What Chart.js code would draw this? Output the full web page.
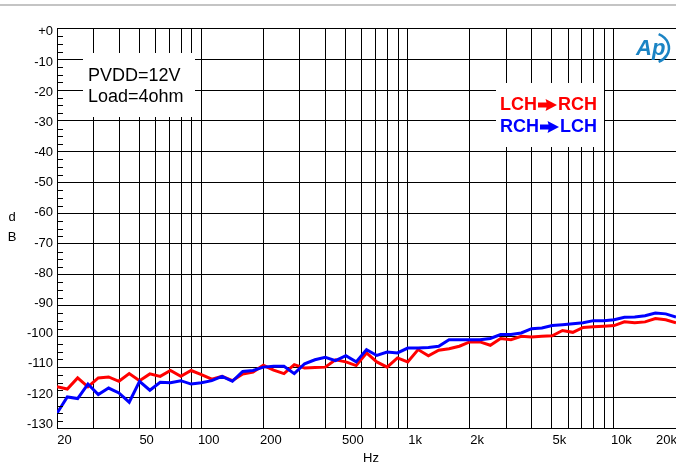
<!DOCTYPE html>
<html>
<head>
<meta charset="utf-8">
<script src="https://cdn.jsdelivr.net/npm/chart.js@4.4.1/dist/chart.umd.min.js"></script>
<style>
  html, body { margin: 0; padding: 0; background: #fff; }
  #wrap { width: 676px; height: 467px; position: relative; }
</style>
</head>
<body>
<div id="wrap"><canvas id="c" width="676" height="467"></canvas></div>
<script>
// Sweep frequencies (Hz), 20 steps per decade from 20 Hz to 20 kHz
const freqHz = [
  20, 22.44, 25.18, 28.25, 31.70, 35.57, 39.91, 44.77, 50.24, 56.37,
  63.25, 70.96, 79.62, 89.34, 100.2, 112.5, 126.2, 141.6, 158.9, 178.3,
  200, 224.4, 251.8, 282.5, 317.0, 355.7, 399.1, 447.7, 502.4, 563.7,
  632.5, 709.6, 796.2, 893.4, 1002, 1125, 1262, 1416, 1589, 1783,
  2000, 2244, 2518, 2825, 3170, 3557, 3991, 4477, 5024, 5637,
  6325, 7096, 7962, 8934, 10024, 11247, 12619, 14159, 15887, 17825,
  20000
];

// Crosstalk, left channel into right channel (dB)
const lchToRch = [
  -116.4, -117.1, -113.5, -116.4, -113.5, -113.2, -114.6, -112.1, -114.4, -112.2,
  -113.0, -111.1, -113.0, -111.1, -112.4, -113.9, -113.0, -114.4, -112.2, -111.6,
  -109.4, -111.0, -112.1, -109.2, -110.3, -110.1, -110.0, -107.6, -108.3, -109.5,
  -105.4, -108.3, -110.0, -107.0, -108.3, -104.3, -106.3, -104.5, -104.0, -103.2,
  -101.8, -101.8, -102.9, -100.7, -101.1, -100.0, -100.2, -100.0, -99.8, -98.1,
  -98.7, -97.1, -96.9, -96.7, -96.5, -95.3, -95.6, -95.3, -94.2, -94.6,
  -95.6
];

// Crosstalk, right channel into left channel (dB)
const rchToLch = [
  -125.0, -119.7, -120.2, -115.5, -118.9, -116.8, -118.4, -121.4, -114.6, -117.5,
  -114.9, -115.1, -114.4, -115.5, -115.1, -114.4, -113.0, -114.6, -111.4, -111.1,
  -110.0, -109.7, -109.7, -112.1, -108.9, -107.6, -106.8, -107.9, -106.3, -108.3,
  -104.3, -106.2, -105.1, -105.4, -103.8, -103.8, -103.6, -103.2, -101.1, -101.1,
  -101.1, -101.1, -100.7, -99.4, -99.4, -98.9, -97.5, -97.3, -96.5, -96.2,
  -95.9, -95.6, -94.9, -94.9, -94.6, -93.8, -93.7, -93.3, -92.4, -92.7,
  -93.7
];

const yTickValues = [0, -10, -20, -30, -40, -50, -60, -70, -80, -90, -100, -110, -120, -130];
const xGridValues = [
  20, 30, 40, 50, 60, 70, 80, 90,
  100, 200, 300, 400, 500, 600, 700, 800, 900,
  1000, 2000, 3000, 4000, 5000, 6000, 7000, 8000, 9000,
  10000, 20000
];
const xTickValues = [20, 50, 100, 200, 500, 1000, 2000, 5000, 10000, 20000];
const xTickLabels = ['20', '50', '100', '200', '500', '1k', '2k', '5k', '10k', '20k'];

const noteLines = ['PVDD=12V', 'Load=4ohm'];
const legendRows = [
  { from: 'LCH', to: 'RCH', color: '#ff0000' },
  { from: 'RCH', to: 'LCH', color: '#0000ff' }
];

const FONT = '"Liberation Sans", Arial, sans-serif';

const decor = {
  id: 'decor',
  beforeDraw(chart) {
    const ctx = chart.ctx;
    ctx.save();
    ctx.fillStyle = '#ffffff';
    ctx.fillRect(0, 0, chart.width, chart.height);
    ctx.fillStyle = '#c4c4c4';
    ctx.fillRect(0, 4, chart.width, 2);
    ctx.restore();
  },
  afterDraw(chart) {
    const ctx = chart.ctx;
    const area = chart.chartArea;
    const xs = chart.scales.x;
    const ys = chart.scales.y;
    ctx.save();

    // minor ticks on the left axis, every 2.5 dB
    ctx.strokeStyle = '#000';
    ctx.lineWidth = 1;
    for (let v = 0; v >= -130; v -= 2.5) {
      if (v % 10 === 0) continue;
      const y = Math.round(ys.getPixelForValue(v)) + 0.5;
      ctx.beginPath();
      ctx.moveTo(area.left, y);
      ctx.lineTo(area.left + 6, y);
      ctx.stroke();
    }

    // condition note
    ctx.fillStyle = '#fff';
    ctx.fillRect(83, 53, 112, 64);
    ctx.fillStyle = '#000';
    ctx.font = '18px ' + FONT;
    ctx.textAlign = 'left';
    ctx.textBaseline = 'middle';
    ctx.fillText(noteLines[0], 88, 76);
    ctx.fillText(noteLines[1], 88, 97);

    // channel legend
    ctx.fillStyle = '#fff';
    ctx.fillRect(496, 83, 108, 64);
    ctx.font = 'bold 18px ' + FONT;
    legendRows.forEach((row, i) => {
      const cy = 105 + i * 22;
      const left = 500, right = 597;
      ctx.fillStyle = row.color;
      ctx.textAlign = 'left';
      ctx.fillText(row.from, left, cy);
      ctx.textAlign = 'right';
      ctx.fillText(row.to, right, cy);
      const a0 = left + ctx.measureText(row.from).width + 1;
      const a1 = right - ctx.measureText(row.to).width - 1;
      const headW = (a1 - a0) * 0.55;
      ctx.beginPath();
      ctx.moveTo(a0, cy - 2.5);
      ctx.lineTo(a1 - headW, cy - 2.5);
      ctx.lineTo(a1 - headW - 1, cy - 6);
      ctx.lineTo(a1, cy);
      ctx.lineTo(a1 - headW - 1, cy + 6);
      ctx.lineTo(a1 - headW, cy + 2.5);
      ctx.lineTo(a0, cy + 2.5);
      ctx.closePath();
      ctx.fill();
    });

    // AP logo
    ctx.fillStyle = '#1b84c4';
    ctx.strokeStyle = '#1b84c4';
    ctx.font = 'italic bold 22px ' + FONT;
    ctx.textAlign = 'left';
    ctx.textBaseline = 'alphabetic';
    ctx.fillText('Ap', 636, 55);
    ctx.lineWidth = 2.5;
    ctx.beginPath();
    ctx.ellipse(650, 48, 19, 15.5, 0, -1.1, 1.1);
    ctx.stroke();

    // frequency labels
    ctx.fillStyle = '#000';
    ctx.font = '13px ' + FONT;
    ctx.textAlign = 'center';
    ctx.textBaseline = 'middle';
    xTickValues.forEach((v, i) => {
      const w = ctx.measureText(xTickLabels[i]).width;
      let px = xs.getPixelForValue(v) + 7.5;
      if (px + w / 2 > chart.width + 1) px = chart.width + 1 - w / 2;
      ctx.fillText(xTickLabels[i], px, 440);
    });

    // axis titles
    ctx.fillText('Hz', 371, 458);
    ctx.fillText('d', 12, 217);
    ctx.fillText('B', 12, 237);

    ctx.restore();
  }
};

const pairs = (ys) => freqHz.map((f, i) => ({ x: f, y: ys[i] }));

new Chart(document.getElementById('c'), {
  type: 'line',
  data: {
    datasets: [
      {
        label: 'RCH→LCH',
        data: pairs(rchToLch),
        borderColor: '#0000ff',
        borderWidth: 3,
        pointRadius: 0,
        tension: 0,
        fill: false
      },
      {
        label: 'LCH→RCH',
        data: pairs(lchToRch),
        borderColor: '#ff0000',
        borderWidth: 3,
        pointRadius: 0,
        tension: 0,
        fill: false
      }
    ]
  },
  options: {
    responsive: false,
    animation: false,
    devicePixelRatio: 1,
    layout: { padding: { top: 28.5, right: 0, left: 0, bottom: 0 } },
    plugins: { legend: { display: false }, tooltip: { enabled: false } },
    scales: {
      x: {
        type: 'logarithmic',
        min: 20,
        max: 20000,
        afterBuildTicks(s) { s.ticks = xGridValues.map(v => ({ value: v })); },
        afterFit(s) { s.height = 38.3; },
        ticks: { display: false },
        grid: { color: '#000', lineWidth: 1, drawTicks: false },
        border: { display: false }
      },
      y: {
        type: 'linear',
        position: 'left',
        weight: 0,
        min: -130,
        max: 0,
        afterBuildTicks(s) { s.ticks = yTickValues.map(v => ({ value: v })); },
        afterFit(s) { s.width = 0; },
        ticks: { display: false },
        grid: { color: '#000', lineWidth: 1, drawTicks: false },
        border: { display: true, color: '#000', width: 1 }
      },
      yLabels: {
        type: 'linear',
        position: 'left',
        weight: 1,
        min: -131.5,
        max: 1.1,
        afterBuildTicks(s) { s.ticks = yTickValues.map(v => ({ value: v })); },
        afterFit(s) { s.width = 57; },
        ticks: {
          autoSkip: false,
          padding: 4,
          color: '#000',
          font: { family: FONT, size: 13 },
          callback: (v) => (v === 0 ? '+0' : String(v))
        },
        grid: { display: false, drawTicks: false },
        border: { display: false }
      }
    }
  },
  plugins: [decor]
});
</script>
</body>
</html>
